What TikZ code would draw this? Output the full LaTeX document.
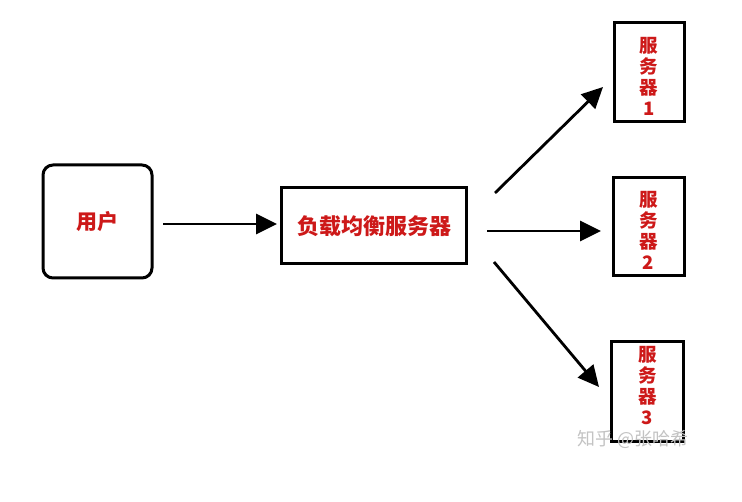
\documentclass[tikz,border=0pt]{standalone}
\usepackage{fontspec}
\newfontfamily\cjk{Noto Sans CJK SC}
\usetikzlibrary{arrows.meta}
\definecolor{txtred}{RGB}{205,25,25}
\definecolor{wmgray}{RGB}{195,195,195}
\tikzset{
  box/.style={draw=black, line width=3pt, inner sep=0pt, fill=white},
  lbl/.style={text=txtred, font=\cjk\bfseries\fontsize{21}{22}\selectfont},
  lblwide/.style={text=txtred, font=\cjk\bfseries\fontsize{22}{23}\selectfont},
  srvlbl/.style={text=txtred, font=\cjk\bfseries\fontsize{18.5}{21}\selectfont, align=center},
  conn/.style={line width=2.8pt, -{Triangle[length=21pt,width=20pt]}},
}
\begin{document}
\begin{tikzpicture}[x=1pt,y=-1pt]
\useasboundingbox (0,0) rectangle (742,502);
% user
\node[box, rounded corners=10pt, minimum width=109pt, minimum height=113pt] (user) at (97.5,221.5) {};
\node[lbl] (usertxt) at (97,222) {用户};
% load balancer
\node[box, minimum width=185pt, minimum height=76pt] (lb) at (373.5,226) {};
\node[lblwide] (lbtxt) at (374,226) {负载均衡服务器};
% servers
\node[box, minimum width=70pt, minimum height=99pt] (s1) at (649,72.5) {};
\node[srvlbl] (s1txt) at (649,76) {服\\务\\器\\1};
\node[box, minimum width=71pt, minimum height=98pt] (s2) at (648.5,227) {};
\node[srvlbl] (s2txt) at (648.5,230) {服\\务\\器\\2};
\node[box, minimum width=72pt, minimum height=100pt] (s3) at (647.5,392) {};
\node[srvlbl] (s3txt) at (647.5,386) {服\\务\\器\\3};
% connector end points
\coordinate (a0) at (163,224);
\coordinate (a1) at (277,224);
\coordinate (b0) at (495,193);
\coordinate (b1) at (603,87);
\coordinate (c0) at (487,231);
\coordinate (c1) at (601,231);
\coordinate (d0) at (494,262);
\coordinate (d1) at (599,387);
\draw[conn] (a0) -- (a1);
\draw[conn] (b0) -- (b1);
\draw[conn] (c0) -- (c1);
\draw[conn] (d0) -- (d1);
% watermark
\node[text=wmgray, font=\cjk\fontsize{18}{19}\selectfont] (wm) at (633,439) {知乎 @张哈希};
\end{tikzpicture}
\end{document}
